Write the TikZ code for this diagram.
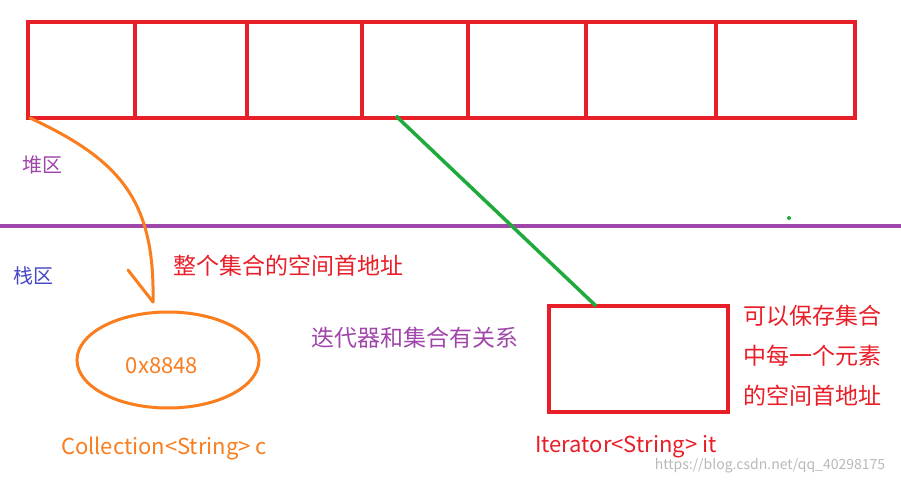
\documentclass[tikz,border=0pt]{standalone}
\usepackage{fontspec}
\usetikzlibrary{shapes.geometric}
\setmainfont{Noto Sans CJK SC}
\newfontfamily\cjk{Noto Sans CJK SC}
\begin{document}
\begin{tikzpicture}[x=1pt,y=-1pt,
  lbl/.style={font=\cjk\fontsize{23}{27}\selectfont,inner sep=0pt},
  lat/.style={font=\cjk\fontsize{22}{26}\selectfont,inner sep=0pt}]
\definecolor{myred}{RGB}{232,30,40}
\definecolor{mypurple}{RGB}{160,70,170}
\definecolor{myorange}{RGB}{250,125,30}
\definecolor{mygreen}{RGB}{30,170,60}
\definecolor{myblue}{RGB}{70,70,200}
\useasboundingbox (0,0) rectangle (901,484);
\fill[white] (0,0) rectangle (901,484);
% array
\draw[draw=myred,line width=3.5pt] (28,22) rectangle (855,118);
\foreach \x in {135,247,362,468,586,716} \draw[draw=myred,line width=3.5pt] (\x,22) -- (\x,118);
\coordinate (c0) at (30,118);
\coordinate (c3) at (396,116);
% divider
\draw[mypurple,line width=4pt] (0,226) -- (901,226);
\node[lbl,text=mypurple,font=\cjk\fontsize{20}{24}\selectfont] (heap) at (42,165) {堆区};
\node[lbl,text=myblue,font=\cjk\fontsize{20}{24}\selectfont] (stack) at (33,276) {栈区};
% ellipse
\node[draw=myorange,line width=3pt,ellipse,minimum width=182pt,minimum height=96pt,inner sep=0pt] (ell) at (168,360) {};
\node[lat,text=myorange] (addr) at (162,366) {0x8848};
\node[lat,text=myorange] (coll) at (164,448) {Collection<String> c};
\coordinate (tip) at (153,302);
\draw[myorange,line width=3pt,line cap=round] (c0) .. controls (120,160) and (155,200) .. (tip);
\draw[myorange,line width=3pt,line cap=round] (128,270) -- (tip);
\node[lbl,text=myred] (t1) at (288,266) {整个集合的空间首地址};
\node[lbl,text=mypurple] (t2) at (415,338) {迭代器和集合有关系};
% iterator
\node[draw=myred,line width=3.5pt,minimum width=179pt,minimum height=106pt,inner sep=0pt] (it) at (638.5,359) {};
\coordinate (gend) at (596,306);
\draw[mygreen,line width=3.5pt] (c3) -- (gend);
\node[text=myred,align=left,inner sep=0pt,font=\cjk\fontsize{23}{40}\selectfont] (t3) at (812,356) {可以保存集合\\中每一个元素\\的空间首地址};
\node[lat,text=myred] (itl) at (626,447) {Iterator<String> it};
\node[font=\cjk\fontsize{14}{16}\selectfont,text=gray!55,inner sep=0pt] (wm) at (770,466) {https://blog.csdn.net/qq\_40298175};
\fill[mygreen] (789,218) circle (2);
\end{tikzpicture}
\end{document}
